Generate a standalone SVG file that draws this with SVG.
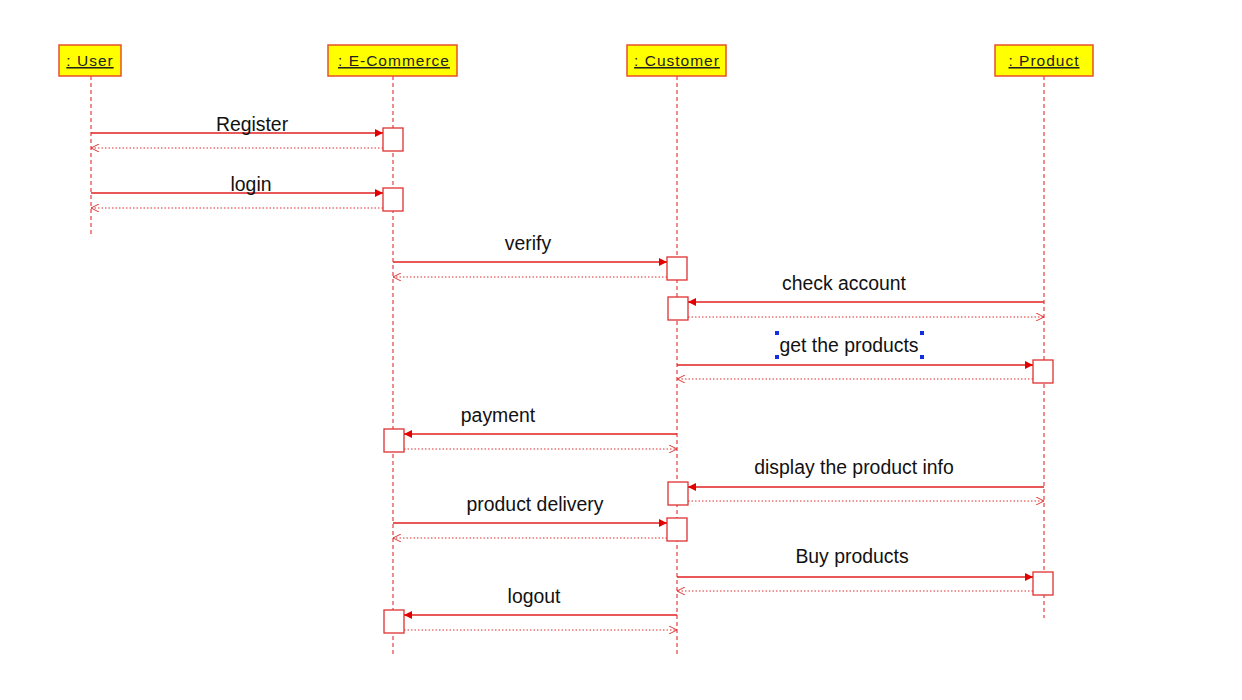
<svg xmlns="http://www.w3.org/2000/svg" width="1242" height="700" viewBox="0 0 1242 700">
<style>
.hdr{fill:#ffff00;stroke:#e8502a;stroke-width:1.5}
.htxt{font-family:"Liberation Sans",Arial,sans-serif;font-size:15.5px;fill:#222;text-decoration:underline;text-anchor:middle;letter-spacing:1px}
.life{stroke:#e84040;stroke-width:1.2;stroke-dasharray:4,3;fill:none}
.act{fill:#fff;stroke:#e03030;stroke-width:1.3}
.msg{stroke:#e02020;stroke-width:1.3;fill:none}
.ret{stroke:#e03030;stroke-width:1.1;stroke-dasharray:1.5,2;fill:none}
.lbl{font-family:"Liberation Sans",Arial,sans-serif;font-size:19.4px;fill:#111;text-anchor:middle}
.h{fill:#1030e0}
</style>
<defs>
<marker id="sync" viewBox="0 0 10 10" refX="10" refY="5" markerWidth="8" markerHeight="8" markerUnits="userSpaceOnUse" orient="auto">
<path d="M0,0 L10,5 L0,10 z" fill="#e00000"/>
</marker>
<marker id="open" viewBox="0 0 10 10" refX="10" refY="5" markerWidth="8" markerHeight="8" markerUnits="userSpaceOnUse" orient="auto">
<path d="M0,0 L10,5 L0,10" fill="none" stroke="#e03030" stroke-width="1.2"/>
</marker>
</defs>
<rect width="1242" height="700" fill="#fff"/>

<g id="user">
<line class="life" x1="91" y1="76" x2="91" y2="236"/>
<rect class="hdr" x="59" y="45" width="62" height="31"/>
<text class="htxt" x="90" y="66">: User</text>
</g>
<g id="ecommerce">
<line class="life" x1="393" y1="76" x2="393" y2="656"/>
<rect class="hdr" x="328" y="45" width="129" height="31"/>
<text class="htxt" x="394" y="66">: E-Commerce</text>
</g>
<g id="customer">
<line class="life" x1="677" y1="76" x2="677" y2="656"/>
<rect class="hdr" x="627" y="45" width="99" height="31"/>
<text class="htxt" x="677" y="66">: Customer</text>
</g>
<g id="product">
<line class="life" x1="1044" y1="76" x2="1044" y2="618"/>
<rect class="hdr" x="995" y="45" width="98" height="31"/>
<text class="htxt" x="1044" y="66">: Product</text>
</g>

<g id="activations">
<rect class="act" x="383" y="128" width="20" height="23"/>
<rect class="act" x="383" y="188" width="20" height="23"/>
<rect class="act" x="667" y="257" width="20" height="23"/>
<rect class="act" x="668" y="297" width="20" height="23"/>
<rect class="act" x="1033" y="360" width="20" height="23"/>
<rect class="act" x="384" y="429" width="20" height="23"/>
<rect class="act" x="668" y="482" width="20" height="23"/>
<rect class="act" x="667" y="518" width="20" height="23"/>
<rect class="act" x="1033" y="572" width="20" height="23"/>
<rect class="act" x="384" y="610" width="20" height="23"/>
</g>

<g id="connectors">
<line class="msg" x1="91" y1="133" x2="383" y2="133" marker-end="url(#sync)"/>
<line class="ret" x1="383" y1="148" x2="91" y2="148" marker-end="url(#open)"/>
<line class="msg" x1="91" y1="193" x2="383" y2="193" marker-end="url(#sync)"/>
<line class="ret" x1="383" y1="208" x2="91" y2="208" marker-end="url(#open)"/>
<line class="msg" x1="393" y1="262" x2="667" y2="262" marker-end="url(#sync)"/>
<line class="ret" x1="667" y1="277" x2="393" y2="277" marker-end="url(#open)"/>
<line class="msg" x1="1044" y1="302" x2="688" y2="302" marker-end="url(#sync)"/>
<line class="ret" x1="688" y1="317" x2="1044" y2="317" marker-end="url(#open)"/>
<line class="msg" x1="677" y1="365" x2="1033" y2="365" marker-end="url(#sync)"/>
<line class="ret" x1="1033" y1="379" x2="677" y2="379" marker-end="url(#open)"/>
<line class="msg" x1="677" y1="434" x2="404" y2="434" marker-end="url(#sync)"/>
<line class="ret" x1="404" y1="449" x2="677" y2="449" marker-end="url(#open)"/>
<line class="msg" x1="1044" y1="487" x2="688" y2="487" marker-end="url(#sync)"/>
<line class="ret" x1="688" y1="501" x2="1044" y2="501" marker-end="url(#open)"/>
<line class="msg" x1="393" y1="523" x2="667" y2="523" marker-end="url(#sync)"/>
<line class="ret" x1="667" y1="538" x2="393" y2="538" marker-end="url(#open)"/>
<line class="msg" x1="677" y1="577" x2="1033" y2="577" marker-end="url(#sync)"/>
<line class="ret" x1="1033" y1="591" x2="677" y2="591" marker-end="url(#open)"/>
<line class="msg" x1="677" y1="615" x2="404" y2="615" marker-end="url(#sync)"/>
<line class="ret" x1="404" y1="630" x2="677" y2="630" marker-end="url(#open)"/>
</g>

<g id="labels">
<text class="lbl" x="252" y="131">Register</text>
<text class="lbl" x="251" y="191">login</text>
<text class="lbl" x="528" y="250">verify</text>
<text class="lbl" x="844" y="290">check account</text>
<text class="lbl" x="849" y="352">get the products</text>
<text class="lbl" x="498" y="422">payment</text>
<text class="lbl" x="854" y="474">display the product info</text>
<text class="lbl" x="535" y="511">product delivery</text>
<text class="lbl" x="852" y="563">Buy products</text>
<text class="lbl" x="534" y="603">logout</text>
</g>

<g id="selection">
<rect class="h" x="775" y="331" width="4" height="4"/>
<rect class="h" x="920" y="331" width="4" height="4"/>
<rect class="h" x="775" y="355" width="4" height="4"/>
<rect class="h" x="920" y="355" width="4" height="4"/>
</g>
</svg>
